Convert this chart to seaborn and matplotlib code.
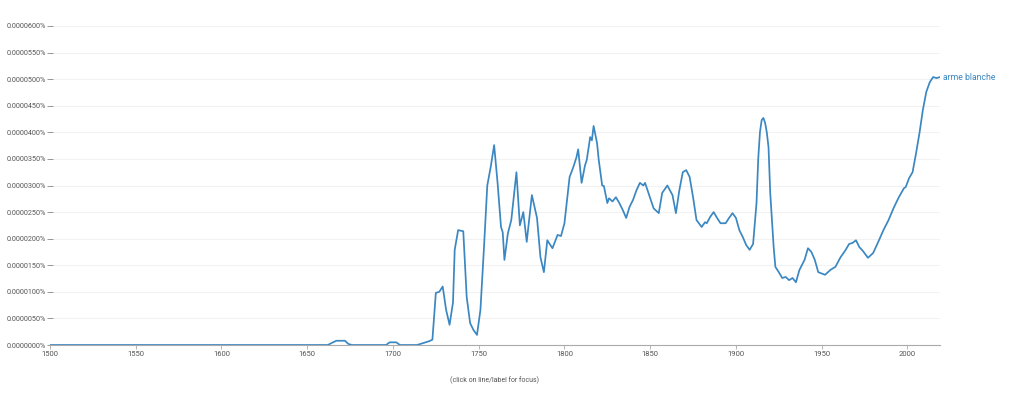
import matplotlib
matplotlib.use('Agg')
import pandas as pd
import matplotlib.pyplot as plt
import seaborn as sns
from matplotlib.ticker import FuncFormatter, MultipleLocator

sns.set_style("white")
plt.rcParams['font.family'] = ['Roboto', 'DejaVu Sans']

# ngram "arme blanche", values in units of 1e-6 %
years = [1500, 1662, 1665, 1667, 1672, 1674, 1676, 1696, 1698, 1702, 1704, 1714, 1717, 1721,
         1723, 1725, 1727, 1729, 1731, 1733, 1735, 1736, 1738, 1741, 1743, 1745, 1747, 1749,
         1751, 1753, 1755, 1757, 1759, 1761, 1763, 1764, 1765, 1767, 1769, 1772, 1774, 1776,
         1778, 1781, 1784, 1786, 1788, 1790, 1793, 1796, 1798, 1800, 1803, 1805, 1807, 1808,
         1810, 1812, 1813, 1815, 1816, 1817, 1819, 1820, 1822, 1823, 1825, 1826, 1828, 1830,
         1832, 1834, 1836, 1838, 1840, 1842, 1844, 1846, 1847, 1849, 1852, 1855, 1857, 1860,
         1863, 1865, 1867, 1869, 1871, 1873, 1875, 1877, 1880, 1882, 1883, 1885, 1887, 1889,
         1891, 1894, 1896, 1898, 1900, 1902, 1904, 1906, 1908, 1910, 1912, 1913, 1914, 1915,
         1916, 1917, 1918, 1919, 1920, 1922, 1923, 1925, 1927, 1929, 1931, 1933, 1935, 1937,
         1940, 1942, 1944, 1946, 1948, 1952, 1955, 1958, 1961, 1964, 1966, 1968, 1970, 1972,
         1974, 1977, 1980, 1983, 1986, 1989, 1992, 1995, 1998, 1999, 2001, 2003, 2005, 2007,
         2009, 2011, 2013, 2015, 2017, 2019]
values = [0, 0, 0.5, 0.8, 0.8, 0.2, 0, 0, 0.5, 0.5, 0, 0, 0.3, 0.7,
          1.0, 9.8, 10, 11, 6.6, 3.8, 8, 17.9, 21.6, 21.4, 9.0, 4.1, 2.8, 1.9,
          6.6, 17.9, 30, 33.5, 37.6, 30.5, 22.2, 21.2, 16, 21, 23.5, 32.5, 22.5, 25,
          19.4, 28.2, 23.9, 16.5, 13.7, 19.7, 18.2, 20.7, 20.5, 22.9, 31.6, 33.3, 35.3, 36.8,
          30.5, 33.8, 34.8, 39.1, 38.5, 41.2, 38, 34.8, 30, 29.9, 26.7, 27.6, 27, 27.8,
          26.7, 25.4, 23.9, 26, 27.3, 29.1, 30.5, 30, 30.5, 28.6, 25.7, 24.8, 28.6, 30,
          28.2, 24.8, 29.1, 32.5, 32.9, 31.6, 27.8, 23.5, 22.2, 23.1, 22.9, 24.1, 25, 23.9,
          22.9, 22.9, 23.9, 24.8, 23.9, 21.6, 20.3, 18.8, 17.9, 19.0, 26.7, 35, 40, 42.3,
          42.7, 41.8, 40, 37.2, 28.6, 18.4, 14.7, 13.7, 12.6, 12.8, 12.2, 12.6, 11.8, 14.1,
          16, 18.2, 17.5, 16, 13.7, 13.2, 14.1, 14.7, 16.5, 17.9, 19, 19.2, 19.7, 18.4,
          17.7, 16.4, 17.3, 19.4, 21.6, 23.5, 25.8, 27.8, 29.5, 29.7, 31.4, 32.5, 36, 39.8,
          44.2, 47.6, 49.4, 50.4, 50.2, 50.4]
label = "arme blanche"
x_ticks = [1500, 1550, 1600, 1650, 1700, 1750, 1800, 1850, 1900, 1950, 2000]

df = pd.DataFrame({'year': years, 'value': values})

line_color = '#3a87c2'
fig = plt.figure(figsize=(10.24, 4.04), dpi=100)
ax = fig.add_axes([50 / 1024, 59 / 404, 890 / 1024, 319 / 404])

sns.lineplot(data=df, x='year', y='value', color=line_color, linewidth=1.25, ax=ax)

ax.set_xlim(1500, 2019)
ax.set_ylim(0, 60)
ax.set_xticks(x_ticks)
ax.yaxis.set_major_locator(MultipleLocator(5))
ax.yaxis.set_major_formatter(FuncFormatter(lambda v, p: f"{v * 1e-6:.7f}%"))
ax.grid(axis='y', color='#f2f2f2', linewidth=0.8)
ax.set_axisbelow(True)

for s in ['top', 'right', 'left']:
    ax.spines[s].set_visible(False)
ax.spines['bottom'].set_color('#aaaaaa')
ax.spines['bottom'].set_linewidth(0.8)

ax.tick_params(axis='y', which='major', left=True, direction='inout', length=4, width=0.6,
               color='#888888', labelsize=5.2, labelcolor='#555555', pad=1)
ax.tick_params(axis='x', which='major', bottom=True, length=3, width=0.6, color='#aaaaaa',
               labelsize=5.5, labelcolor='#555555', pad=1.5)

ax.set_xlabel("(click on line/label for focus)", fontsize=5, color='#555555', labelpad=14)
ax.set_ylabel("")

ax.text(years[-1] + 1.8, values[-1], label, color=line_color, fontsize=6.2,
        va='center', ha='left', clip_on=False)

fig.savefig('out.png', dpi=100)
